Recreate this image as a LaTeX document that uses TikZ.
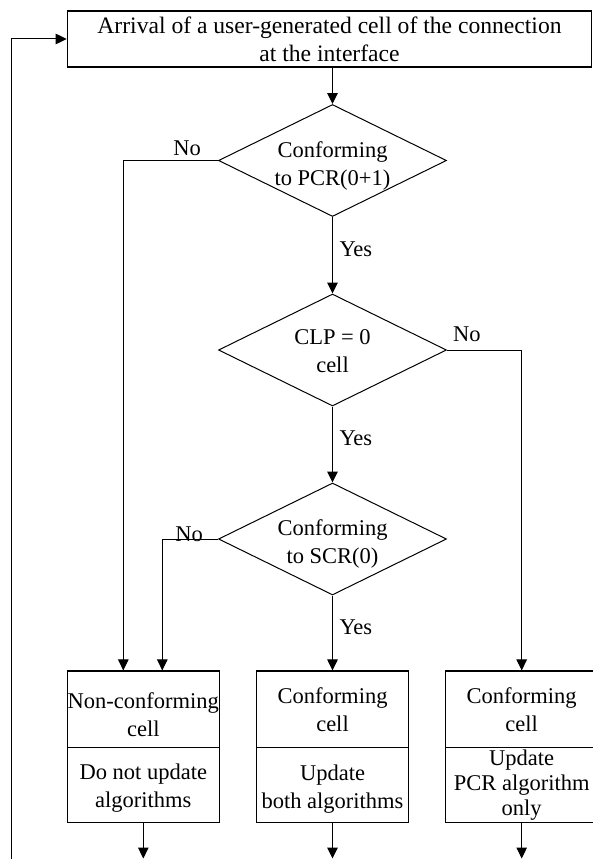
\documentclass[tikz,border=0pt]{standalone}
\usepackage{fontspec}
\setmainfont{Liberation Serif}
\usetikzlibrary{shapes.geometric,arrows.meta}

\begin{document}
\begin{tikzpicture}[x=1pt,y=-1pt,
		every node/.style={font=\fontsize{22.5}{28}\selectfont},
		box/.style={draw,line width=1.2pt,minimum width=152pt,minimum height=76.5pt,inner sep=0pt},
		dec/.style={draw,diamond,line width=1pt,minimum width=228pt,minimum height=112pt,inner sep=0pt},
		txt/.style={align=center,inner sep=0pt},
		lbl/.style={inner sep=0pt},
		arr/.style={line width=1pt,-{Triangle[length=11pt,width=10.5pt]}}]
		\useasboundingbox (0,0) rectangle (592,859);
		% start
		\node[box,line width=1.6pt,minimum width=524pt,minimum height=56.5pt,txt,font=\fontsize{23.6}{28.3}\selectfont] (arrival) at (329.5,39) {Arrival of a user-generated cell of the connection\\at the interface};
		% decisions
		\node[dec] (pcr) at (332.5,160.5) {};
		\node[txt] (pcrtext) at (332.5,166) {Conforming\\to PCR(0+1)};
		\node[dec] (clp) at (332.5,350) {};
		\node[txt] (clptext) at (332.5,351) {CLP = 0\\cell};
		\node[dec] (scr) at (332.5,539) {};
		\node[txt] (scrtext) at (332.5,544) {Conforming\\to SCR(0)};
		% results
		\node[box] (noncon) at (143.3,709.3) {};
		\node[txt] (noncontext) at (143.3,714.5) {Non-conforming\\cell};
		\node[box,minimum height=75pt] (noupd) at (143.3,785.2) {};
		\node[txt] (noupdtext) at (143.3,788) {Do not update\\algorithms};
		\node[box] (conf) at (332.5,709.3) {};
		\node[txt] (conftext) at (332.5,710) {Conforming\\cell};
		\node[box,minimum height=75pt] (both) at (332.5,785.2) {};
		\node[txt] (bothtext) at (332.5,789) {Update\\both algorithms};
		\node[box] (confpcr) at (521.7,709.3) {};
		\node[txt] (confpcrtext) at (521.7,710) {Conforming\\cell};
		\node[box,minimum height=75pt] (pcronly) at (521.7,785.2) {};
		\node[txt,font=\fontsize{22.5}{25}\selectfont] (pcronlytext) at (521.7,785.2) {Update\\PCR algorithm\\only};
		\coordinate (out1) at (143.3,858.5);
		\coordinate (out2) at (332.5,858.5);
		\coordinate (out3) at (521.7,858.5);
		\coordinate (back) at (11,859);
		% connectors
		\draw[arr] (arrival.south -| pcr.north) -- (pcr.north);
		\draw[arr] (pcr.south) -- node[lbl,right=6.5pt,pos=0.42] (yes1) {Yes} (clp.north);
		\draw[arr] (clp.south) -- node[lbl,right=6.5pt,pos=0.42] (yes2) {Yes} (scr.north);
		\draw[arr] (scr.south) -- node[lbl,right=6.5pt,pos=0.42] (yes3) {Yes} (conf.north);
		\draw[arr] (pcr.west) -| ([xshift=-20pt]noncon.north);
		\draw[arr] (scr.west) -| ([xshift=19pt]noncon.north);
		\draw[arr] (clp.east) -| (confpcr.north);
		\node[lbl,anchor=base east] (no1) at ([xshift=-17pt,yshift=5.5pt]pcr.west) {No};
		\node[lbl,anchor=base west] (no2) at ([xshift=6pt,yshift=9pt]clp.east) {No};
		\node[lbl,anchor=base east] (no3) at ([xshift=-15pt,yshift=-2pt]scr.west) {No};
		\draw[arr] (noupd.south) -- (out1);
		\draw[arr] (both.south) -- (out2);
		\draw[arr] (pcronly.south) -- (out3);
		\draw[arr] (back) |- (arrival.west);
	\end{tikzpicture}
\end{document}
